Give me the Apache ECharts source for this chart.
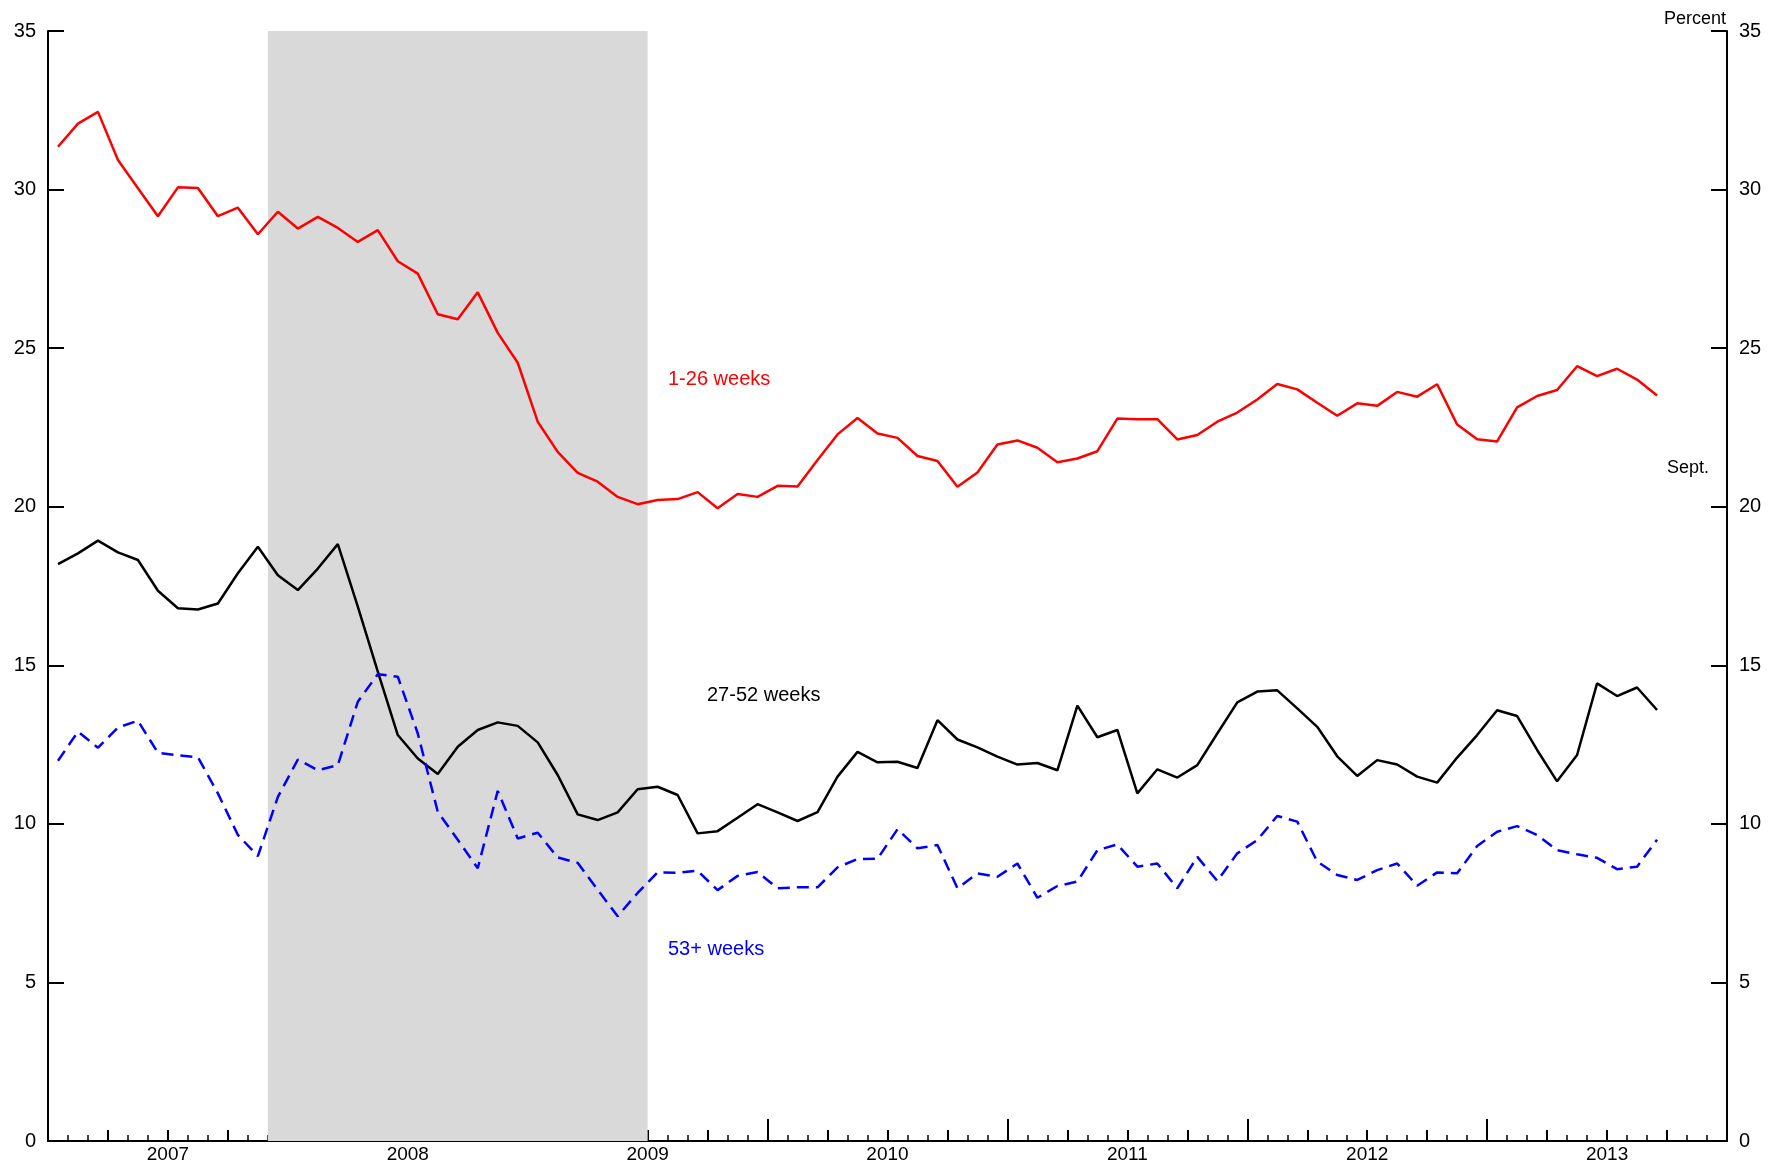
<!DOCTYPE html>
<html>
<head>
<meta charset="utf-8">
<script src="https://cdn.jsdelivr.net/npm/echarts@6/dist/echarts.min.js"></script>
<style>
html,body{margin:0;padding:0;background:#fff;}
#chart{width:1773px;height:1165px;}
</style>
</head>
<body>
<div id="chart"></div>
<script>
// Monthly data, Jan 2007 .. Sept 2013 (81 months)
var startYear = 2007;
var yearLabels = ['2007','2008','2009','2010','2011','2012','2013'];
var yTicks = [0,5,10,15,20,25,30,35];
var recession = {start: '2007-12', end: '2009-06'};

var weeks1to26 = [31.35,32.08,32.45,30.93,30.04,29.16,30.07,30.05,29.16,29.43,28.59,29.30,
  28.77,29.14,28.79,28.35,28.72,27.74,27.35,26.07,25.91,26.76,25.48,24.54,
  22.68,21.73,21.07,20.79,20.31,20.08,20.21,20.24,20.46,19.95,20.40,20.31,
  20.66,20.64,21.47,22.28,22.80,22.31,22.17,21.60,21.44,20.63,21.08,21.96,
  22.09,21.86,21.40,21.52,21.75,22.78,22.76,22.76,22.12,22.26,22.68,22.97,
  23.38,23.87,23.70,23.28,22.87,23.26,23.18,23.62,23.47,23.86,22.59,22.13,
  22.06,23.13,23.49,23.68,24.43,24.12,24.35,24.01,23.51];

var weeks27to52 = [18.19,18.53,18.93,18.56,18.32,17.35,16.80,16.76,16.95,17.90,18.74,17.84,
  17.37,18.05,18.82,16.85,14.80,12.80,12.06,11.57,12.43,12.96,13.20,13.09,
  12.57,11.54,10.30,10.12,10.36,11.09,11.17,10.91,9.70,9.77,10.19,10.62,
  10.36,10.09,10.37,11.49,12.27,11.94,11.96,11.76,13.27,12.66,12.41,12.12,
  11.87,11.92,11.69,13.73,12.73,12.96,10.96,11.72,11.46,11.85,12.85,13.83,
  14.17,14.21,13.64,13.06,12.13,11.51,12.01,11.87,11.49,11.30,12.09,12.80,
  13.58,13.40,12.33,11.34,12.17,14.43,14.03,14.30,13.59];

var weeks53plus = [11.99,12.91,12.40,13.04,13.25,12.24,12.16,12.10,10.96,9.65,8.98,10.85,
  12.03,11.69,11.85,13.85,14.72,14.64,12.85,10.38,9.50,8.60,11.04,9.54,
  9.72,8.94,8.77,7.92,7.09,7.82,8.47,8.46,8.52,7.91,8.36,8.48,
  7.97,8.00,8.00,8.63,8.89,8.90,9.83,9.23,9.33,7.97,8.44,8.33,
  8.75,7.67,8.04,8.18,9.17,9.35,8.65,8.75,7.97,8.96,8.20,9.07,
  9.49,10.25,10.07,8.81,8.39,8.23,8.54,8.75,8.05,8.47,8.44,9.30,
  9.75,9.93,9.65,9.17,9.04,8.93,8.57,8.65,9.50];

function monthIndex(s){var p=s.split('-');return (+p[0]-startYear)*12+(+p[1]-1);}
function toPoints(arr){return arr.map(function(v,i){return [i+0.5,v];});}

var FONT = 'Liberation Sans, Arial, sans-serif';
var nYears = yearLabels.length;
var xMax = nYears*12;

var chart = echarts.init(document.getElementById('chart'), null, {renderer:'canvas'});

var baseX = {type:'value', min:0, max:xMax, position:'bottom', gridIndex:0,
  splitLine:{show:false}, axisLabel:{show:false}, axisLine:{show:false, onZero:false}};

function yAxisDef(pos){
  return {type:'value', min:0, max:35, interval:5, position:pos,
    axisLine:{show:true, onZero:false, lineStyle:{color:'#000', width:2}},
    axisTick:{show:true, inside:true, length:16, lineStyle:{color:'#000', width:2}},
    axisLabel:{color:'#000', fontFamily:FONT, fontSize:20, margin:12},
    splitLine:{show:false}};
}

var option = {
  animation:false,
  backgroundColor:'#fff',
  grid:{left:48, right:46, top:31, bottom:24, containLabel:false},
  xAxis:[
    Object.assign({}, baseX, {interval:12,
      axisLine:{show:true, onZero:false, lineStyle:{color:'#000', width:2}},
      axisTick:{show:true, inside:true, length:22, lineStyle:{color:'#000', width:2}}}),
    Object.assign({}, baseX, {interval:3,
      axisTick:{show:true, inside:true, length:11, lineStyle:{color:'#000', width:2}}}),
    Object.assign({}, baseX, {interval:1,
      axisTick:{show:true, inside:true, length:6, lineStyle:{color:'#000', width:1.5}}}),
    Object.assign({}, baseX, {interval:6,
      axisTick:{show:false},
      axisLabel:{show:true, margin:4, color:'#000', fontFamily:FONT, fontSize:19,
        formatter:function(v){ if ((v-6)%12===0){ return yearLabels[(v-6)/12]; } return ''; }}})
  ],
  yAxis:[ yAxisDef('left'), yAxisDef('right') ],
  series:[
    {type:'line', name:'recession', xAxisIndex:0, yAxisIndex:0, data:[], silent:true,
      markArea:{silent:true, itemStyle:{color:'#d9d9d9'},
        data:[[{xAxis:monthIndex(recession.start)},{xAxis:monthIndex(recession.end)+1}]]}},
    {type:'line', name:'1-26 weeks', data:toPoints(weeks1to26), showSymbol:false,
      lineStyle:{color:'#ff0000', width:2.5}, z:3},
    {type:'line', name:'27-52 weeks', data:toPoints(weeks27to52), showSymbol:false,
      lineStyle:{color:'#000000', width:2.5}, z:3},
    {type:'line', name:'53+ weeks', data:toPoints(weeks53plus), showSymbol:false,
      lineStyle:{color:'#0000ff', width:2.5, type:[12,7]}, z:3}
  ],
  graphic:[
    {type:'text', left:668, top:369, style:{text:'1-26 weeks', fill:'#ff0000', font:'20px '+FONT}},
    {type:'text', left:707, top:685, style:{text:'27-52 weeks', fill:'#000', font:'20px '+FONT}},
    {type:'text', left:668, top:939, style:{text:'53+ weeks', fill:'#0000ff', font:'20px '+FONT}},
    {type:'text', left:1667, top:459, style:{text:'Sept.', fill:'#000', font:'18px '+FONT}},
    {type:'text', right:47, top:10, style:{text:'Percent', fill:'#000', font:'18px '+FONT}}
  ]
};
chart.setOption(option);
</script>
</body>
</html>
